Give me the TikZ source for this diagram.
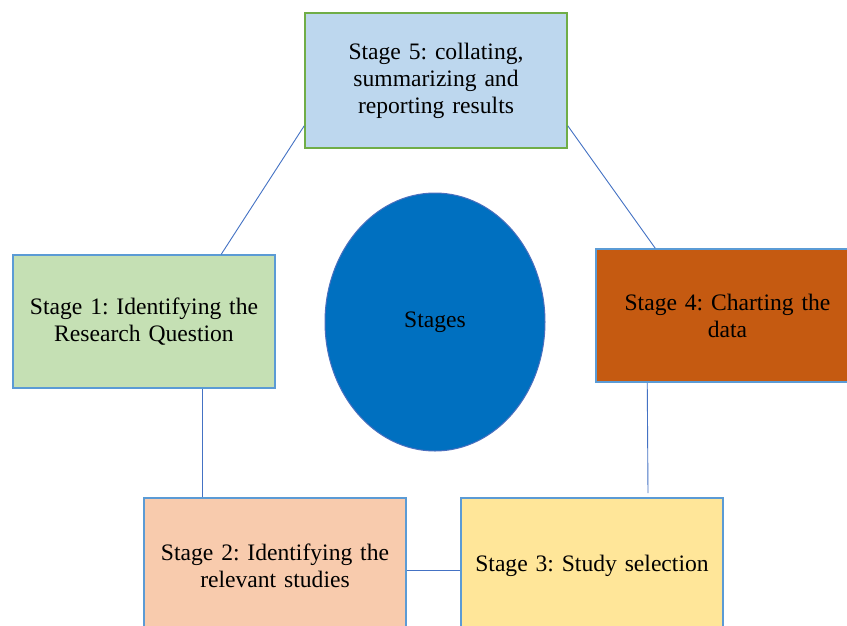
\documentclass[tikz,border=0pt]{standalone}
\usepackage{fontspec}
\setmainfont{Liberation Serif}
\frenchspacing
\usetikzlibrary{shapes.geometric}
\definecolor{bluebd}{HTML}{5B9BD5}
\definecolor{greenbd}{HTML}{70AD47}
\definecolor{linec}{HTML}{4472C4}
\definecolor{fiveF}{HTML}{BDD7EE}
\definecolor{oneF}{HTML}{C5E0B4}
\definecolor{twoF}{HTML}{F8CBAD}
\definecolor{threeF}{HTML}{FFE699}
\definecolor{fourF}{HTML}{C55A11}
\definecolor{ellF}{HTML}{0070C0}
\definecolor{ellB}{HTML}{4A6FBE}
\tikzset{
  stagebox/.style={draw=bluebd, line width=1.5pt, rectangle, minimum width=262pt,
    minimum height=134pt, text width=245pt, align=center, inner sep=0pt,
    font=\fontsize{23.6}{27}\selectfont},
  conn/.style={draw=linec, line width=0.9pt}
}
\begin{document}
\begin{tikzpicture}[x=1pt,y=-1pt]
\clip (0,0) rectangle (847,625);
\fill[white] (0,0) rectangle (847,625);
\node[stagebox, draw=greenbd, fill=fiveF, minimum height=135pt] (s5) at (436,80.5) {Stage 5: collating,\\ summarizing and\\ reporting results};
\node[stagebox, fill=oneF, minimum height=133pt] (s1) at (144,321.5) {Stage 1: Identifying the\\ Research Question};
\node[stagebox, fill=fourF, minimum width=263pt, minimum height=133pt] (s4) at (727.5,315.5) {Stage 4: Charting the\\ data};
\node[stagebox, fill=twoF, minimum height=135pt] (s2) at (275,565.5) {Stage 2: Identifying the\\ relevant studies};
\node[stagebox, fill=threeF, minimum height=135pt] (s3) at (592,565.5) {Stage 3: Study selection};
\node[ellipse, draw=ellB, line width=1pt, fill=ellF, minimum width=220pt, minimum height=258pt, inner sep=0pt, font=\fontsize{23.6}{27}\selectfont] (ell) at (435,322) {Stages};
\coordinate (e4) at (648,493);
\draw[conn] ([yshift=23pt]s5.south west) -- ([xshift=209pt]s1.north west);
\draw[conn] ([yshift=23pt]s5.south east) -- ([xshift=60pt]s4.north west);
\draw[conn] ([xshift=190pt]s1.south west) -- ([xshift=59pt]s2.north west);
\draw[conn] ([xshift=52pt]s4.south west) -- (e4);
\draw[conn] ([yshift=-4.5pt]s2.east) -- ([yshift=-4.5pt]s3.west);
\end{tikzpicture}
\end{document}
